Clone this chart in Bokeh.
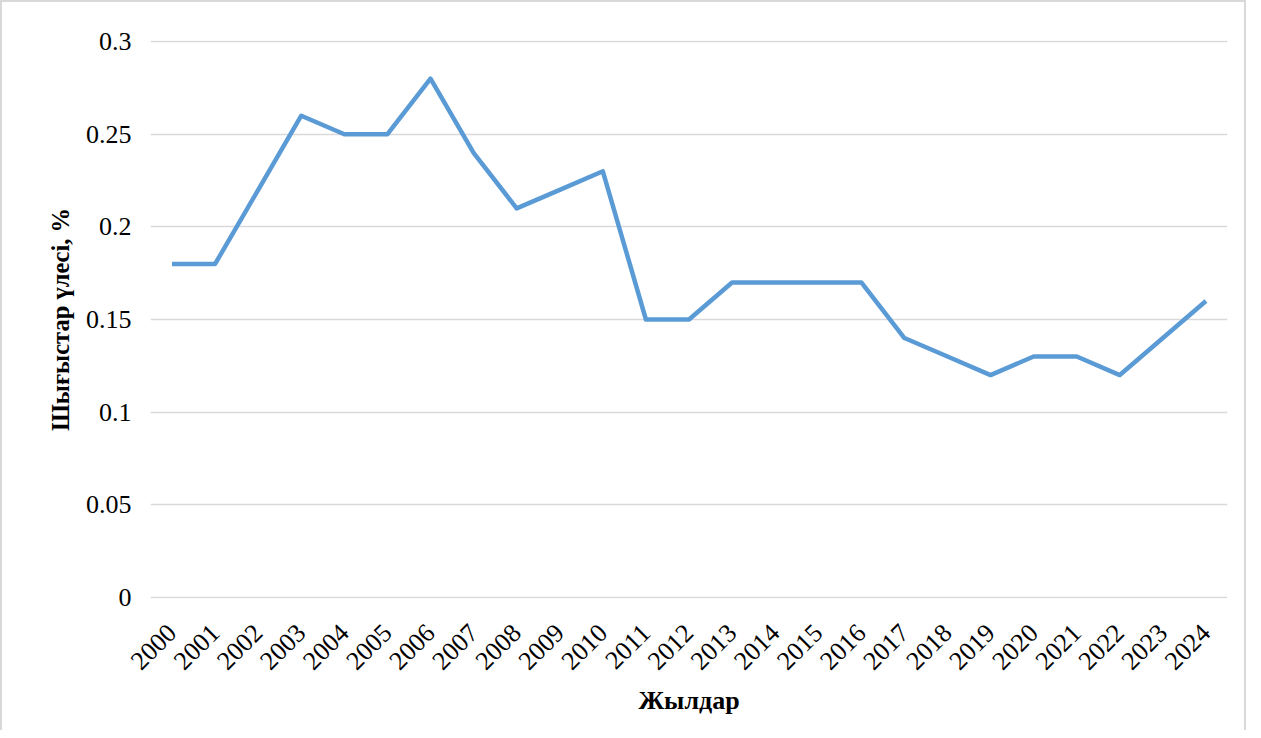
from bokeh.plotting import figure
from bokeh.models import Range1d, FixedTicker
from bokeh.embed import file_html
from bokeh.resources import INLINE
import math

years = [str(y) for y in range(2000, 2025)]
shares = [0.18, 0.18, 0.22, 0.26, 0.25, 0.25, 0.28, 0.24, 0.21, 0.22, 0.23,
          0.15, 0.15, 0.17, 0.17, 0.17, 0.17, 0.14, 0.13, 0.12, 0.13, 0.13,
          0.12, 0.14, 0.16]
y_ticks = [0, 0.05, 0.1, 0.15, 0.2, 0.25, 0.3]
y_tick_labels = ["0", "0.05", "0.1", "0.15", "0.2", "0.25", "0.3"]

FONT = "Liberation Serif"

p = figure(x_range=years, y_range=Range1d(-0.0006, 0.3006), width=1246, height=730,
           output_backend="svg", toolbar_location=None,
           min_border_left=148, min_border_right=21, min_border_top=38,
           min_border_bottom=134)
p.styles = {"border-top": "2px solid #d9d9d9", "border-left": "2px solid #d9d9d9",
            "border-right": "2px solid #d9d9d9"}
p.outline_line_color = None

p.line(x=years, y=shares, line_color="#5b9bd5", line_width=4.5, line_join="round")

p.xgrid.grid_line_color = None
p.ygrid.grid_line_color = "#d9d9d9"
p.ygrid.grid_line_width = 1.5

p.yaxis.ticker = FixedTicker(ticks=y_ticks)
p.yaxis.major_label_overrides = {t: l for t, l in zip(y_ticks, y_tick_labels)}
for ax in (p.xaxis[0], p.yaxis[0]):
    ax.axis_line_color = None
    ax.major_tick_line_color = None
    ax.minor_tick_line_color = None
    ax.major_label_text_font = FONT
    ax.major_label_text_font_size = "26px"
    ax.major_label_text_color = "black"
    ax.axis_label_text_font = FONT
    ax.axis_label_text_font_style = "bold"
    ax.axis_label_text_color = "black"

p.yaxis.major_label_standoff = 13
p.yaxis.axis_label = "Шығыстар үлесі, %"
p.yaxis.axis_label_text_font_size = "24.5px"
p.yaxis.axis_label_standoff = 9

p.xaxis.major_label_orientation = math.pi / 4
p.xaxis.major_label_standoff = 24
p.xaxis.axis_label = "Жылдар"
p.xaxis.axis_label_text_font_size = "26px"
p.xaxis.axis_label_standoff = 6

open("out.html", "w").write(file_html(p, INLINE))
